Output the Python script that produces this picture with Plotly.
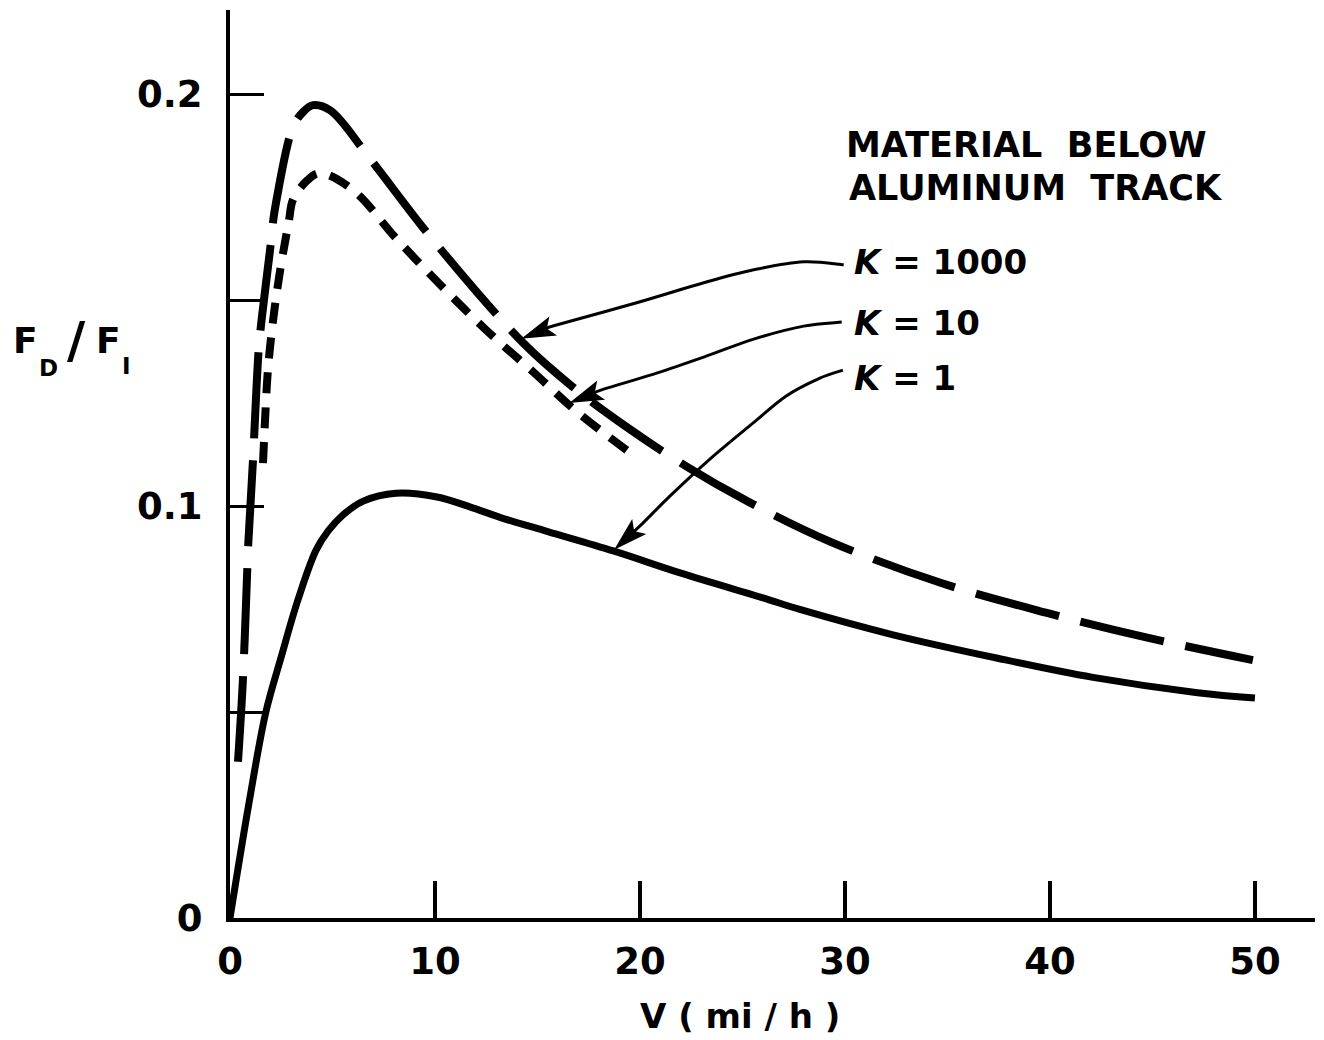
import numpy as np
import plotly.graph_objects as go

# F_D / F_I against speed V (mi/h) for three values of K
speed_k1000 = [0.39, 0.63, 0.83, 0.88, 1.12, 1.4, 1.56, 1.95, 2.1, 2.24, 3.07, 3.56, 4.05,
               4.9, 6.8, 9.9, 14.3, 16.7, 19.2, 22.3, 25.3, 29.3, 34.7, 39.9, 44.8, 49.9]
ratio_k1000 = [0.0379, 0.0578, 0.0828, 0.0898, 0.111, 0.138, 0.146, 0.162, 0.169, 0.1735,
               0.192, 0.1956, 0.1973, 0.196, 0.1845, 0.1646, 0.1396, 0.129, 0.1197, 0.1095,
               0.101, 0.0913, 0.0813, 0.074, 0.068, 0.0626]

speed_k10 = [1.61, 1.71, 1.85, 2.1, 2.44, 2.88, 3.07, 3.76, 4.4, 6.0, 8.1, 10.2, 12.5,
             14.8, 16.9, 19.5]
ratio_k10 = [0.1104, 0.1209, 0.133, 0.145, 0.157, 0.1694, 0.1743, 0.179, 0.1808, 0.1767,
             0.165, 0.154, 0.1427, 0.1325, 0.123, 0.113]

speed_k1 = [0, 0.93, 1.75, 2.5, 3.3, 4.2, 4.8, 5.5, 6.5, 8.1, 10.1, 11.7, 13.2, 15.5, 18.7,
            22.0, 26.0, 27.8, 32.3, 37.4, 42.1, 47.2, 50.0]
ratio_k1 = [0, 0.0280, 0.050, 0.0634, 0.077, 0.0893, 0.0940, 0.0978, 0.1012, 0.1031, 0.1022,
            0.0998, 0.0972, 0.0938, 0.0891, 0.0837, 0.0777, 0.0749, 0.0688, 0.0631, 0.0584,
            0.0547, 0.0534]

x_tick_vals = [0, 10, 20, 30, 40, 50]
x_tick_text = ["0", "10", "20", "30", "40", "50"]
y_tick_vals = [0, 0.10, 0.20]
y_tick_text = ["0", "0.1", "0.2"]
y_minor_vals = [0.05, 0.15]

curve_labels = ["K", "K", "K"]
curve_values = ["1000", "10", "1"]
heading_lines = ["MATERIAL  BELOW", "ALUMINUM  TRACK"]

# page geometry
W, H = 1324, 1040
ML, MR, MT, MB = 230, 9, 10, 122
X_MAX, Y_MAX = 52.93, 0.2204
PX_V = (W - ML - MR) / X_MAX
INK = "black"
FONT = "DejaVu Sans"


def dx(px):
    return (px - ML) / PX_V


def paper_x(px):
    return (px - ML) / (W - ML - MR)


def paper_y(py):
    return (H - MB - py) / (H - MT - MB)


fig = go.Figure()
fig.add_trace(go.Scatter(x=speed_k1000, y=ratio_k1000, mode="lines", cliponaxis=False,
                         line=dict(color=INK, width=8, dash="86px,22px",
                                   shape="spline", smoothing=1.0)))
fig.add_trace(go.Scatter(x=speed_k10, y=ratio_k10, mode="lines", cliponaxis=False,
                         line=dict(color=INK, width=8, dash="21px,14px",
                                   shape="spline", smoothing=1.0)))
fig.add_trace(go.Scatter(x=speed_k1, y=ratio_k1, mode="lines", cliponaxis=False,
                         line=dict(color=INK, width=7, shape="spline", smoothing=1.0)))


def smooth_path(pts):
    """Catmull-Rom through pixel points (y up) as cubic Bezier SVG path."""
    d = f"M {pts[0][0]:.1f},{pts[0][1]:.1f}"
    for i in range(len(pts) - 1):
        p0 = pts[i - 1] if i > 0 else pts[i]
        p1, p2 = pts[i], pts[i + 1]
        p3 = pts[i + 2] if i + 2 < len(pts) else pts[i + 1]
        c1 = (p1[0] + (p2[0] - p0[0]) / 6, p1[1] + (p2[1] - p0[1]) / 6)
        c2 = (p2[0] - (p3[0] - p1[0]) / 6, p2[1] - (p3[1] - p1[1]) / 6)
        d += f" C {c1[0]:.1f},{c1[1]:.1f} {c2[0]:.1f},{c2[1]:.1f} {p2[0]:.1f},{p2[1]:.1f}"
    return d


def add_pointer(speeds, ratios, v_tip, trail, back=4, head_len=30, head_half=9):
    """Curved leader with a filled head, anchored on the curve at speed v_tip.
    trail: screen-pixel offsets (x right, y down) from the head tip, tail first."""
    f_tip = float(np.interp(v_tip, speeds, ratios))
    pts = [(x, -y) for x, y in trail] + [(0.0, 0.0)]
    ux, uy = pts[-1][0] - pts[-2][0], pts[-1][1] - pts[-2][1]
    n = np.hypot(ux, uy)
    ux, uy = ux / n, uy / n
    # pull the head back so its point sits on the stroke edge
    pts = [(x - ux * back, y - uy * back) for x, y in pts]
    tx, ty = pts[-1]
    bx, by = tx - ux * head_len, ty - uy * head_len
    nx, ny = -uy, ux
    head = (f"M {tx:.1f},{ty:.1f} L {bx + nx * head_half:.1f},{by + ny * head_half:.1f} "
            f"L {tx - ux * head_len * 0.8:.1f},{ty - uy * head_len * 0.8:.1f} "
            f"L {bx - nx * head_half:.1f},{by - ny * head_half:.1f} Z")
    common = dict(type="path", xref="x", yref="y", xsizemode="pixel", ysizemode="pixel",
                  xanchor=v_tip, yanchor=f_tip, layer="above")
    fig.add_shape(path=smooth_path(pts[:-1] + [(tx - ux * head_len * 0.6, ty - uy * head_len * 0.6)]),
                  line=dict(color=INK, width=3), fillcolor="rgba(0,0,0,0)", **common)
    fig.add_shape(path=head, line=dict(color=INK, width=1.5), fillcolor=INK, **common)


add_pointer(speed_k1000, ratio_k1000, dx(520),
            [(320, -73), (280, -76), (230, -68), (180, -55), (113, -35), (30, -12)])
add_pointer(speed_k10, ratio_k10, dx(568),
            [(270, -80), (232, -76), (182, -63), (132, -45), (82, -28), (32, -13)])
add_pointer(speed_k1, ratio_k1, dx(613),
            [(227, -178), (204, -170), (170, -152), (137, -125), (94, -89), (54, -52), (27, -25)])


def text(s, px, py, size, xanchor="left"):
    fig.add_annotation(text=f"<b>{s}</b>", x=paper_x(px), y=paper_y(py),
                       xref="paper", yref="paper", showarrow=False,
                       xanchor=xanchor, yanchor="middle", borderpad=0,
                       font=dict(family=FONT, size=size, color=INK))


text(heading_lines[0], 845, 145, 35)
text(heading_lines[1], 848, 188, 35)
for (lab, val), py in zip(zip(curve_labels, curve_values), [262, 323, 378]):
    text(f"<i>{lab}</i> = {val}", 853, py, 34)

text("V ( mi / h )", 740, 1016, 34, xanchor="center")

# y-axis label  F_D / F_I, subscripts set lower and smaller beside each F
text("F", 12, 340, 36)
text("D", 38, 368, 23)
text("/", 76, 340, 50, xanchor="center")
text("F", 95, 340, 36)
text("I", 121, 366, 23)

axis_common = dict(showline=True, linecolor=INK, linewidth=4, showgrid=False, zeroline=False,
                   ticks="inside", tickcolor=INK,
                   tickfont=dict(family=FONT, size=37, color=INK, weight="bold"))
fig.update_xaxes(range=[0, X_MAX], tickvals=x_tick_vals, ticktext=x_tick_text,
                 ticklen=37, tickwidth=4, ticklabelstandoff=8, **axis_common)
fig.update_yaxes(range=[0, Y_MAX], tickvals=y_tick_vals, ticktext=y_tick_text,
                 ticklen=34, tickwidth=3, ticklabelstandoff=16,
                 minor=dict(tickvals=y_minor_vals, ticks="inside", ticklen=34, tickwidth=3,
                            tickcolor=INK, showgrid=False),
                 **axis_common)

fig.update_layout(width=W, height=H, margin=dict(l=ML, r=MR, t=MT, b=MB),
                  paper_bgcolor="white", plot_bgcolor="white", showlegend=False)

fig.write_html("out.html")
